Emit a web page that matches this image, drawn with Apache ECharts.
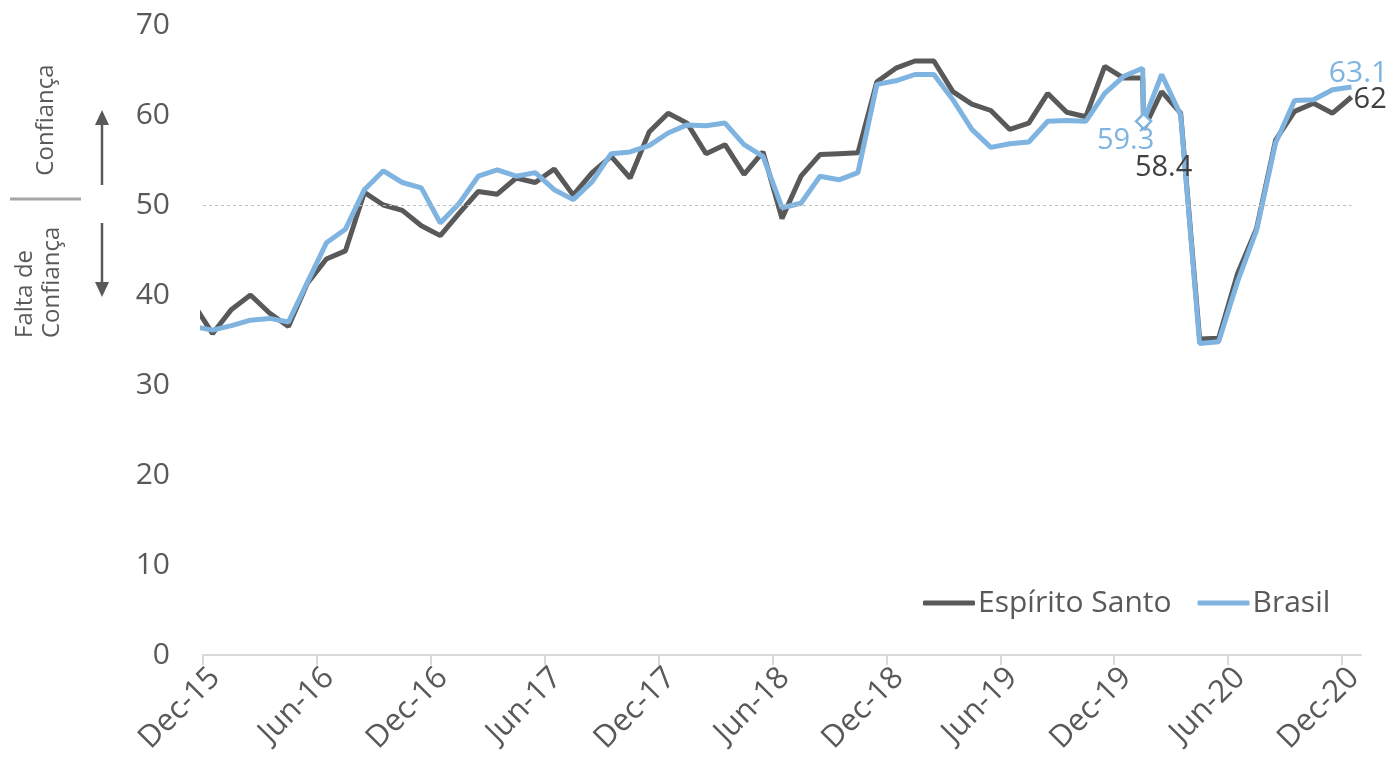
<!DOCTYPE html>
<html>
<head>
<meta charset="utf-8">
<script src="https://cdn.jsdelivr.net/npm/echarts@6/dist/echarts.min.js"></script>
<style>
  html, body { margin: 0; padding: 0; background: #fff; }
  #chart { width: 1393px; height: 771px; }
</style>
</head>
<body>
<div id="chart"></div>
<script>
// monthly readings, Nov-15 (partly hidden by the axis start) to Dec-20
var tickLabels = ['Dec-15', 'Jun-16', 'Dec-16', 'Jun-17', 'Dec-17', 'Jun-18',
                  'Dec-18', 'Jun-19', 'Dec-19', 'Jun-20', 'Dec-20'];
var esValues = [39.0, 35.7,
    38.4, 40.0, 38.0, 36.5, 41.3, 44.0, 44.9, 51.4, 50.0, 49.4, 47.7, 46.6,
    49.1, 51.5, 51.2, 53.0, 52.5, 54.0, 51.1, 53.6, 55.4, 53.0, 58.1, 60.2,
    59.1, 55.7, 56.7, 53.4, 55.9, 48.5, 53.2, 55.6, 55.7, 55.8, 63.7, 65.2,
    66.0, 66.0, 62.6, 61.2, 60.5, 58.4, 59.1, 62.4, 60.3, 59.8, 65.4, 64.1,
    64.1, 62.6, 60.2, 35.1, 35.2, 42.4, 47.4, 57.2, 60.4, 61.3, 60.2, 62.0];
var brValues = [36.5, 36.1,
    36.6, 37.2, 37.4, 37.0, 41.4, 45.8, 47.3, 51.7, 53.8, 52.5, 51.9, 48.0,
    50.2, 53.2, 53.9, 53.2, 53.6, 51.7, 50.6, 52.6, 55.7, 55.9, 56.6, 58.0,
    58.9, 58.8, 59.1, 56.7, 55.4, 49.7, 50.2, 53.2, 52.8, 53.6, 63.4, 63.8,
    64.5, 64.5, 61.7, 58.4, 56.4, 56.8, 57.0, 59.3, 59.4, 59.3, 62.4, 64.3,
    65.2, 64.5, 60.0, 34.6, 34.8, 41.5, 47.2, 56.9, 61.6, 61.7, 62.8, 63.1];
// extra reading taken inside Jan-20
var extraIndex = 50;
var esExtra = 58.4;
var brExtra = 59.3;
var threshold = 50;

var dark = '#595959';
var blue = '#7FB4E1';
var font = 'Open Sans';

function xOf(i) { return i - 0.5; }

function buildData(values, extra, lastLabel, extraLabel, extraSymbol) {
    var out = [];
    for (var i = 0; i < values.length; i++) {
        if (i === values.length - 1) {
            out.push({ value: [xOf(i), values[i]], label: lastLabel });
        } else {
            out.push([xOf(i), values[i]]);
        }
        if (i === extraIndex) {
            var item = { value: [xOf(i) + 0.05, extra], label: extraLabel };
            if (extraSymbol) {
                item.symbol = 'diamond';
                item.symbolSize = 15;
                item.itemStyle = { color: '#fff', borderColor: blue, borderWidth: 2.5 };
            }
            out.push(item);
        }
    }
    return out;
}

var myChart = echarts.init(document.getElementById('chart'));
var option = {
    animation: false,
    backgroundColor: '#fff',
    grid: { left: 203, right: 32, top: 25, bottom: 116, containLabel: false },
    legend: {
        left: 918, top: 583,
        itemWidth: 52, itemHeight: 5, itemGap: 26,
        icon: 'roundRect',
        textStyle: { color: dark, fontSize: 30, fontFamily: font, padding: [0, 0, 0, -2] },
        data: ['Espírito Santo', 'Brasil']
    },
    xAxis: {
        type: 'value',
        min: 0, max: 61, interval: 6,
        axisLine: { show: true, lineStyle: { color: '#d9d9d9', width: 2 } },
        axisTick: { show: true, length: 10, lineStyle: { color: '#d9d9d9', width: 2 } },
        splitLine: { show: false },
        axisLabel: {
            rotate: 45, margin: 30, padding: [0, -17, 0, 0],
            color: dark, fontSize: 31, fontFamily: font,
            showMaxLabel: false,
            formatter: function (v) { return tickLabels[v / 6] || ''; }
        }
    },
    yAxis: {
        type: 'value',
        min: 0, max: 70, interval: 10,
        axisLine: { show: false },
        axisTick: { show: false },
        splitLine: { show: false },
        axisLabel: { margin: 33, color: dark, fontSize: 30, fontFamily: font }
    },
    series: [
        {
            name: 'Espírito Santo',
            type: 'line',
            color: dark,
            symbol: 'circle', symbolSize: 0.1, showSymbol: true,
            lineStyle: { width: 5, color: dark },
            itemStyle: { color: dark },
            emphasis: { disabled: true },
            label: { show: false },
            data: buildData(esValues, esExtra,
                { show: true, position: 'right', distance: 2, offset: [0, 3], color: '#404040', fontSize: 29, fontFamily: font },
                { show: true, position: 'bottom', offset: [20, 19], color: '#404040', fontSize: 29, fontFamily: font },
                false)
        },
        {
            name: 'Brasil',
            type: 'line',
            color: blue,
            symbol: 'circle', symbolSize: 0.1, showSymbol: true,
            lineStyle: { width: 5, color: blue },
            itemStyle: { color: blue },
            emphasis: { disabled: true },
            label: { show: false },
            data: buildData(brValues, brExtra,
                { show: true, position: 'top', offset: [7, 6], color: blue, fontSize: 30, fontFamily: font },
                { show: true, position: 'bottom', offset: [-18, -9], color: blue, fontSize: 29, fontFamily: font },
                true),
            markLine: {
                silent: true,
                symbol: ['none', 'none'],
                label: { show: false },
                lineStyle: { color: '#bfbfbf', type: [3, 3], width: 1.2 },
                data: [[{ coord: [0, threshold] }, { coord: [xOf(brValues.length - 1), threshold] }]]
            }
        }
    ],
    graphic: [
        {
            type: 'text', x: 46, y: 120, rotation: Math.PI / 2,
            style: { text: 'Confiança', fill: dark, font: '24px "Open Sans"', align: 'center', verticalAlign: 'middle' }
        },
        {
            type: 'line', shape: { x1: 10, y1: 199, x2: 81, y2: 199 },
            style: { stroke: '#a6a6a6', lineWidth: 3 }
        },
        {
            type: 'text', x: 12, y: 338, rotation: Math.PI / 2,
            style: { text: 'Falta de\nConfiança', fill: dark, font: '24px "Open Sans"', align: 'left', verticalAlign: 'top', lineHeight: 27 }
        },
        {
            type: 'line', shape: { x1: 102, y1: 185, x2: 102, y2: 122 },
            style: { stroke: dark, lineWidth: 2.5 }
        },
        {
            type: 'polygon', shape: { points: [[102, 110], [95, 125], [109, 125]] },
            style: { fill: dark }
        },
        {
            type: 'line', shape: { x1: 102, y1: 223, x2: 102, y2: 285 },
            style: { stroke: dark, lineWidth: 2.5 }
        },
        {
            type: 'polygon', shape: { points: [[102, 297], [95, 282], [109, 282]] },
            style: { fill: dark }
        }
    ]
};
myChart.setOption(option);
</script>
</body>
</html>
